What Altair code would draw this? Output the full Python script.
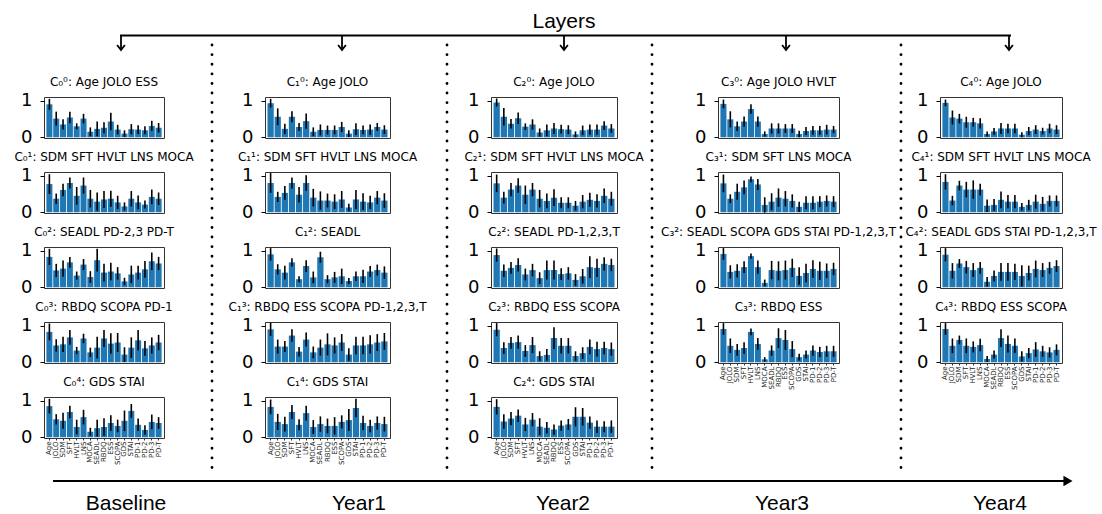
import altair as alt
import pandas as pd

features = ["Age", "JOLO", "SDM", "SFT", "HVLT", "LNS", "MOCA", "SEADL", "RBDQ",
            "ESS", "SCOPA", "GDS", "STAI", "PD-1", "PD-2", "PD-3", "PD-T"]

# ---------------- Baseline ----------------
baseline_c0 = [0.90, 0.51, 0.35, 0.54, 0.30, 0.51, 0.15, 0.23, 0.26, 0.43, 0.21, 0.10, 0.22, 0.21, 0.19, 0.31, 0.26]
baseline_c0_err = [0.15, 0.19, 0.14, 0.16, 0.08, 0.13, 0.12, 0.20, 0.15, 0.24, 0.13, 0.09, 0.14, 0.12, 0.11, 0.14, 0.13]
baseline_c1 = [0.77, 0.37, 0.61, 0.80, 0.45, 0.73, 0.37, 0.29, 0.35, 0.37, 0.27, 0.16, 0.37, 0.27, 0.21, 0.42, 0.37]
baseline_c1_err = [0.27, 0.14, 0.17, 0.15, 0.24, 0.22, 0.24, 0.25, 0.23, 0.22, 0.18, 0.11, 0.21, 0.19, 0.11, 0.20, 0.17]
baseline_c2 = [0.83, 0.46, 0.51, 0.68, 0.32, 0.62, 0.28, 0.74, 0.40, 0.43, 0.38, 0.16, 0.35, 0.40, 0.49, 0.71, 0.65]
baseline_c2_err = [0.22, 0.18, 0.22, 0.15, 0.11, 0.15, 0.16, 0.31, 0.24, 0.24, 0.17, 0.10, 0.24, 0.19, 0.23, 0.24, 0.18]
baseline_c3 = [0.83, 0.46, 0.49, 0.68, 0.32, 0.65, 0.27, 0.40, 0.65, 0.51, 0.54, 0.21, 0.40, 0.60, 0.38, 0.46, 0.54]
baseline_c3_err = [0.23, 0.17, 0.21, 0.20, 0.10, 0.13, 0.13, 0.30, 0.23, 0.28, 0.26, 0.20, 0.28, 0.28, 0.20, 0.22, 0.21]
baseline_c4 = [0.85, 0.49, 0.45, 0.69, 0.28, 0.55, 0.15, 0.25, 0.28, 0.39, 0.31, 0.45, 0.72, 0.34, 0.20, 0.42, 0.39]
baseline_c4_err = [0.20, 0.14, 0.22, 0.17, 0.20, 0.20, 0.11, 0.23, 0.24, 0.21, 0.17, 0.28, 0.19, 0.17, 0.13, 0.20, 0.16]

# ---------------- Year1 ----------------
year1_c0 = [0.93, 0.56, 0.23, 0.56, 0.28, 0.44, 0.15, 0.20, 0.20, 0.20, 0.28, 0.10, 0.22, 0.20, 0.21, 0.28, 0.21]
year1_c0_err = [0.12, 0.23, 0.14, 0.15, 0.11, 0.21, 0.12, 0.15, 0.12, 0.12, 0.14, 0.09, 0.16, 0.12, 0.14, 0.11, 0.12]
year1_c1 = [0.80, 0.42, 0.53, 0.80, 0.48, 0.80, 0.40, 0.32, 0.32, 0.29, 0.35, 0.13, 0.35, 0.29, 0.27, 0.40, 0.32]
year1_c1_err = [0.27, 0.14, 0.19, 0.15, 0.21, 0.21, 0.24, 0.25, 0.19, 0.20, 0.23, 0.10, 0.26, 0.23, 0.18, 0.18, 0.20]
year1_c2 = [0.90, 0.49, 0.40, 0.68, 0.22, 0.58, 0.27, 0.82, 0.22, 0.27, 0.30, 0.17, 0.30, 0.30, 0.43, 0.47, 0.40]
year1_c2_err = [0.17, 0.14, 0.19, 0.11, 0.08, 0.16, 0.16, 0.15, 0.11, 0.15, 0.21, 0.08, 0.13, 0.18, 0.15, 0.15, 0.17]
year1_c3 = [0.90, 0.43, 0.43, 0.73, 0.29, 0.62, 0.27, 0.40, 0.49, 0.46, 0.54, 0.21, 0.46, 0.46, 0.49, 0.54, 0.57]
year1_c3_err = [0.18, 0.19, 0.15, 0.17, 0.13, 0.19, 0.16, 0.22, 0.30, 0.22, 0.23, 0.17, 0.24, 0.24, 0.25, 0.23, 0.23]
year1_c4 = [0.83, 0.42, 0.36, 0.69, 0.34, 0.66, 0.28, 0.36, 0.31, 0.31, 0.42, 0.47, 0.80, 0.39, 0.31, 0.39, 0.36]
year1_c4_err = [0.20, 0.22, 0.20, 0.19, 0.15, 0.20, 0.19, 0.21, 0.20, 0.24, 0.18, 0.30, 0.25, 0.20, 0.17, 0.18, 0.20]

# ---------------- Year2 ----------------
year2_c0 = [0.95, 0.56, 0.37, 0.52, 0.29, 0.35, 0.13, 0.19, 0.24, 0.22, 0.21, 0.08, 0.19, 0.21, 0.21, 0.32, 0.24]
year2_c0_err = [0.11, 0.24, 0.13, 0.16, 0.09, 0.14, 0.11, 0.16, 0.15, 0.12, 0.12, 0.08, 0.13, 0.14, 0.14, 0.12, 0.12]
year2_c1 = [0.79, 0.40, 0.62, 0.73, 0.48, 0.62, 0.37, 0.31, 0.40, 0.26, 0.26, 0.18, 0.29, 0.34, 0.31, 0.45, 0.37]
year2_c1_err = [0.24, 0.16, 0.18, 0.20, 0.25, 0.18, 0.24, 0.20, 0.23, 0.15, 0.15, 0.13, 0.18, 0.19, 0.18, 0.20, 0.19]
year2_c2 = [0.88, 0.45, 0.53, 0.61, 0.35, 0.47, 0.25, 0.47, 0.47, 0.36, 0.38, 0.20, 0.30, 0.55, 0.53, 0.64, 0.61]
year2_c2_err = [0.18, 0.17, 0.16, 0.18, 0.16, 0.17, 0.16, 0.26, 0.26, 0.16, 0.17, 0.16, 0.20, 0.30, 0.25, 0.18, 0.17]
year2_c3 = [0.89, 0.39, 0.53, 0.55, 0.31, 0.47, 0.17, 0.20, 0.66, 0.45, 0.45, 0.17, 0.25, 0.42, 0.36, 0.39, 0.36]
year2_c3_err = [0.18, 0.16, 0.16, 0.18, 0.16, 0.22, 0.13, 0.16, 0.30, 0.21, 0.21, 0.13, 0.16, 0.20, 0.20, 0.17, 0.18]
year2_c4 = [0.83, 0.43, 0.51, 0.59, 0.35, 0.48, 0.29, 0.26, 0.21, 0.32, 0.35, 0.56, 0.56, 0.40, 0.29, 0.29, 0.29]
year2_c4_err = [0.21, 0.20, 0.18, 0.17, 0.18, 0.18, 0.23, 0.16, 0.14, 0.14, 0.15, 0.26, 0.24, 0.17, 0.17, 0.15, 0.17]

# ---------------- Year3 ----------------
year3_c0 = [0.91, 0.49, 0.30, 0.43, 0.77, 0.43, 0.09, 0.24, 0.24, 0.24, 0.24, 0.09, 0.17, 0.19, 0.19, 0.21, 0.21]
year3_c0_err = [0.12, 0.22, 0.13, 0.14, 0.13, 0.14, 0.07, 0.14, 0.14, 0.12, 0.12, 0.09, 0.11, 0.12, 0.12, 0.13, 0.10]
year3_c1 = [0.79, 0.37, 0.56, 0.68, 0.90, 0.76, 0.20, 0.29, 0.40, 0.37, 0.31, 0.15, 0.26, 0.26, 0.29, 0.31, 0.29]
year3_c1_err = [0.24, 0.12, 0.22, 0.19, 0.08, 0.15, 0.21, 0.23, 0.25, 0.21, 0.18, 0.14, 0.18, 0.18, 0.15, 0.15, 0.15]
year3_c2 = [0.91, 0.42, 0.45, 0.55, 0.85, 0.55, 0.12, 0.47, 0.45, 0.47, 0.53, 0.31, 0.39, 0.50, 0.45, 0.45, 0.50]
year3_c2_err = [0.16, 0.18, 0.18, 0.16, 0.07, 0.18, 0.09, 0.25, 0.26, 0.26, 0.25, 0.24, 0.25, 0.24, 0.25, 0.20, 0.17]
year3_c3 = [0.91, 0.45, 0.34, 0.39, 0.83, 0.50, 0.08, 0.32, 0.66, 0.61, 0.36, 0.14, 0.21, 0.32, 0.28, 0.30, 0.30]
year3_c3_err = [0.16, 0.20, 0.16, 0.16, 0.09, 0.16, 0.06, 0.14, 0.27, 0.27, 0.22, 0.09, 0.11, 0.14, 0.14, 0.15, 0.15]

# ---------------- Year4 ----------------
year4_c0 = [0.94, 0.54, 0.51, 0.41, 0.41, 0.38, 0.09, 0.16, 0.24, 0.24, 0.24, 0.07, 0.17, 0.21, 0.17, 0.24, 0.21]
year4_c0_err = [0.09, 0.19, 0.13, 0.15, 0.12, 0.14, 0.07, 0.09, 0.15, 0.13, 0.13, 0.07, 0.11, 0.12, 0.09, 0.13, 0.12]
year4_c1 = [0.83, 0.32, 0.73, 0.62, 0.62, 0.62, 0.18, 0.20, 0.34, 0.29, 0.29, 0.15, 0.20, 0.29, 0.23, 0.31, 0.31]
year4_c1_err = [0.21, 0.13, 0.13, 0.21, 0.25, 0.16, 0.17, 0.16, 0.23, 0.18, 0.18, 0.10, 0.14, 0.19, 0.19, 0.15, 0.15]
year4_c2 = [0.89, 0.45, 0.65, 0.55, 0.47, 0.53, 0.15, 0.31, 0.42, 0.42, 0.42, 0.31, 0.39, 0.50, 0.47, 0.53, 0.58]
year4_c2_err = [0.18, 0.21, 0.12, 0.17, 0.19, 0.16, 0.13, 0.15, 0.24, 0.24, 0.22, 0.29, 0.20, 0.23, 0.19, 0.16, 0.16]
year4_c3 = [0.91, 0.45, 0.61, 0.45, 0.42, 0.47, 0.09, 0.21, 0.66, 0.50, 0.45, 0.16, 0.25, 0.35, 0.30, 0.27, 0.34]
year4_c3_err = [0.16, 0.20, 0.12, 0.20, 0.15, 0.17, 0.08, 0.11, 0.24, 0.23, 0.20, 0.14, 0.14, 0.20, 0.15, 0.14, 0.15]

columns_data = [
    [(baseline_c0, baseline_c0_err), (baseline_c1, baseline_c1_err), (baseline_c2, baseline_c2_err),
     (baseline_c3, baseline_c3_err), (baseline_c4, baseline_c4_err)],
    [(year1_c0, year1_c0_err), (year1_c1, year1_c1_err), (year1_c2, year1_c2_err),
     (year1_c3, year1_c3_err), (year1_c4, year1_c4_err)],
    [(year2_c0, year2_c0_err), (year2_c1, year2_c1_err), (year2_c2, year2_c2_err),
     (year2_c3, year2_c3_err), (year2_c4, year2_c4_err)],
    [(year3_c0, year3_c0_err), (year3_c1, year3_c1_err), (year3_c2, year3_c2_err),
     (year3_c3, year3_c3_err)],
    [(year4_c0, year4_c0_err), (year4_c1, year4_c1_err), (year4_c2, year4_c2_err),
     (year4_c3, year4_c3_err)],
]

panel_titles = [
    ["C₀⁰: Age JOLO ESS", "C₀¹: SDM SFT HVLT LNS MOCA", "C₀²: SEADL PD-2,3 PD-T",
     "C₀³: RBDQ SCOPA PD-1", "C₀⁴: GDS STAI"],
    ["C₁⁰: Age JOLO", "C₁¹: SDM SFT HVLT LNS MOCA", "C₁²: SEADL",
     "C₁³: RBDQ ESS SCOPA PD-1,2,3,T", "C₁⁴: GDS STAI"],
    ["C₂⁰: Age JOLO", "C₂¹: SDM SFT HVLT LNS MOCA", "C₂²: SEADL PD-1,2,3,T",
     "C₂³: RBDQ ESS SCOPA", "C₂⁴: GDS STAI"],
    ["C₃⁰: Age JOLO HVLT", "C₃¹: SDM SFT LNS MOCA", "C₃²: SEADL SCOPA GDS STAI PD-1,2,3,T",
     "C₃³: RBDQ ESS"],
    ["C₄⁰: Age JOLO", "C₄¹: SDM SFT HVLT LNS MOCA", "C₄²: SEADL GDS STAI PD-1,2,3,T",
     "C₄³: RBDQ ESS SCOPA"],
]

# decoration (annotation) positions, in page pixels
time_labels = ["Baseline", "Year1", "Year2", "Year3", "Year4"]
time_label_x = [125, 358, 562, 781, 999]
layer_arrow_x = [120, 341, 563, 785, 1008]
separator_x = [211, 446, 651, 900]

COL_W = [120, 125, 126, 121, 122]
PANEL_H = 41
TOP_H = 59
OX = 43  # left edge of first panel column

BAR_COLOR = "#1f77b4"
FRAME = "#333333"


def panel(vals, errs, title, bottom, width):
    df = pd.DataFrame({"feature": features, "value": vals, "err": errs})
    df["lo"] = df["value"] - df["err"]
    df["hi"] = df["value"] + df["err"]
    if bottom:
        xaxis = alt.Axis(labelAngle=270, labelFontSize=7, labelFont="DejaVu Sans",
                         labelColor="#222222", tickSize=2, tickColor=FRAME,
                         domain=False, labelPadding=1, title=None)
    else:
        xaxis = None
    x = alt.X("feature:N", sort=features,
              scale=alt.Scale(paddingInner=0.12, paddingOuter=0.35), axis=xaxis)
    yscale = alt.Scale(domain=[-0.02, 1.1], nice=False, zero=False)
    yaxis = alt.Axis(values=[0, 1], format="d", labelFontSize=18, labelFont="DejaVu Sans",
                     labelColor="black", tickColor="black", tickSize=4, domain=False,
                     grid=False, labelPadding=8, title=None)
    bars = alt.Chart(df).mark_bar(color=BAR_COLOR).encode(
        x=x, y=alt.Y("value:Q", scale=yscale, axis=yaxis), y2=alt.datum(0))
    errs_m = alt.Chart(df).mark_rule(color="black", strokeWidth=1.6).encode(
        x=x, y=alt.Y("lo:Q", scale=yscale, axis=yaxis), y2="hi:Q")
    return alt.layer(bars, errs_m).properties(
        width=width, height=PANEL_H,
        title=alt.TitleParams(text=title, fontSize=12, font="DejaVu Sans",
                              fontWeight="normal", offset=3, frame="group",
                              anchor="middle", color="black"),
        view=alt.ViewBackground(stroke=FRAME, strokeWidth=1),
    )


def empty(width, height):
    return alt.Chart(pd.DataFrame({"a": [0]})).mark_point(opacity=0).encode(
        x=alt.value(0), y=alt.value(0)).properties(
        width=width, height=height, view=alt.ViewBackground(stroke="transparent"))


def decorations():
    one = pd.DataFrame({"a": [0]})
    bound = alt.Chart(one).mark_rule(color="white", strokeWidth=0.2).encode(
        x=alt.value(-OX), x2=alt.value(1100 - OX), y=alt.value(0))
    layers_txt = alt.Chart(one).mark_text(text="Layers", fontSize=21, font="Liberation Sans",
                                          color="black", align="center", baseline="middle").encode(
        x=alt.value(563 - OX), y=alt.value(18))
    hline = alt.Chart(one).mark_rule(color="black", strokeWidth=2).encode(
        x=alt.value(119 - OX), x2=alt.value(1010 - OX), y=alt.value(31.5))
    arr = pd.DataFrame({"x": [v - OX for v in layer_arrow_x]})
    stems = alt.Chart(arr).mark_rule(color="black", strokeWidth=1.8).encode(
        x=alt.X("x:Q", scale=None), y=alt.value(31), y2=alt.value(46))
    heads = alt.Chart(arr).mark_point(shape="M-1,-1.3L0,0L1,-1.3", filled=False, color="black",
                                      strokeWidth=1.8, size=60, opacity=1).encode(
        x=alt.X("x:Q", scale=None), y=alt.value(46))
    sep = pd.DataFrame({"x": [v - OX for v in separator_x]})
    seps = alt.Chart(sep).mark_rule(color="black", strokeWidth=2.8, strokeCap="round",
                                    strokeDash=[0.1, 9.5]).encode(
        x=alt.X("x:Q", scale=None), y=alt.value(41), y2=alt.value(468))
    tline = alt.Chart(one).mark_rule(color="black", strokeWidth=2.2).encode(
        x=alt.value(52 - OX), x2=alt.value(1066 - OX), y=alt.value(477))
    thead = alt.Chart(one).mark_point(shape="triangle-right", filled=True, color="black",
                                      size=110, opacity=1).encode(
        x=alt.value(1067 - OX), y=alt.value(477))
    tl = pd.DataFrame({"label": time_labels, "x": [v - OX for v in time_label_x]})
    tlabels = alt.Chart(tl).mark_text(fontSize=21, font="Liberation Sans", color="black",
                                      align="center", baseline="middle").encode(
        x=alt.X("x:Q", scale=None), y=alt.value(500), text="label:N")
    return alt.layer(bound, layers_txt, hline, stems, heads, seps, tline, thead, tlabels).properties(
        width=COL_W[0], height=TOP_H, view=alt.ViewBackground(stroke="transparent"))


cells = [decorations()] + [empty(COL_W[c], TOP_H) for c in range(1, 5)]
for r in range(5):
    for c in range(5):
        col = columns_data[c]
        if r < len(col):
            vals, errs = col[r]
            cells.append(panel(vals, errs, panel_titles[c][r], r == len(col) - 1, COL_W[c]))
        else:
            cells.append(empty(COL_W[c], PANEL_H))

chart = alt.concat(*cells, columns=5, spacing={"row": 34, "column": 101},
                   bounds="flush", align="each").properties(
    padding={"left": 0, "top": 0, "right": 0, "bottom": 0},
    background="white",
).configure_view(stroke=None)

chart.save("out.html", embed_options={"renderer": "svg", "actions": False})
